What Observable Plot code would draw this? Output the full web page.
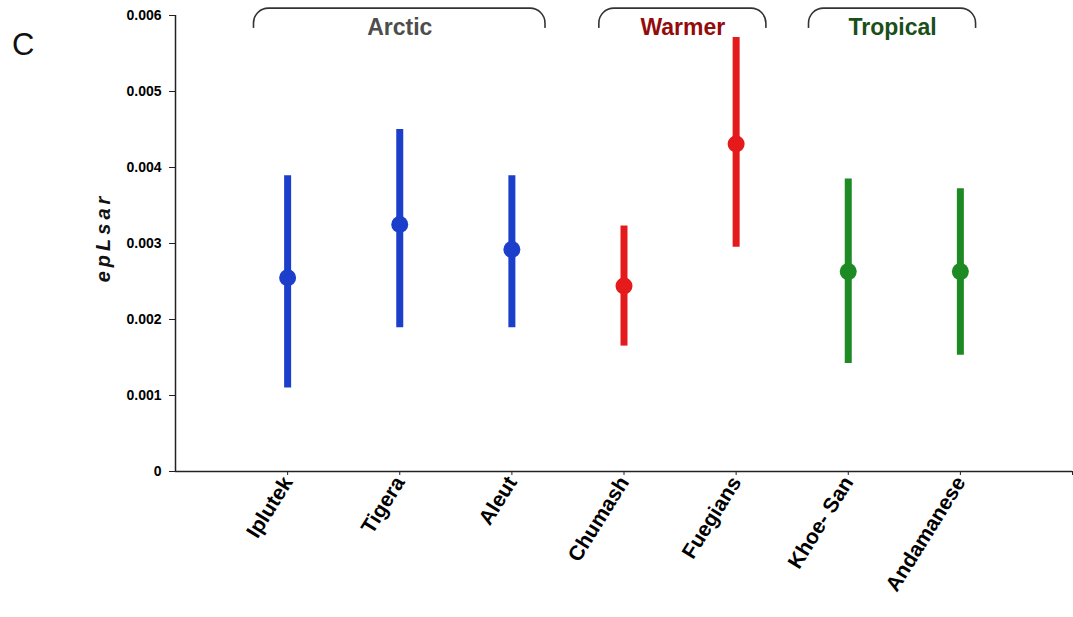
<!DOCTYPE html>
<html><head><meta charset="utf-8">
<script src="https://cdn.jsdelivr.net/npm/d3@7"></script>
<script src="https://cdn.jsdelivr.net/npm/@observablehq/plot@0.6"></script>
<style>
body{margin:0;background:#fff;}
#wrap{position:relative;width:1073px;height:617px;}
#panel{position:absolute;left:12px;top:27px;font:31px "Liberation Sans",Arial,sans-serif;color:#111;}
#wrap svg{position:absolute;left:0;top:0;}
</style></head><body><div id="wrap"><div id="panel">C</div></div>
<script>
// Data
const populations = ["Iplutek", "Tigera", "Aleut", "Chumash", "Fuegians", "Khoe- San", "Andamanese"];
const climates    = ["Arctic", "Arctic", "Arctic", "Warmer", "Warmer", "Tropical", "Tropical"];
const means = [0.00255, 0.00325, 0.00292, 0.00244, 0.00431, 0.00263, 0.00263];
const lows  = [0.00110, 0.00189, 0.00189, 0.00165, 0.00295, 0.00142, 0.00153];
const highs = [0.00389, 0.00450, 0.00389, 0.00323, 0.00571, 0.00385, 0.00372];
const yTicks = [0, 0.001, 0.002, 0.003, 0.004, 0.005, 0.006];
const groupNames = ["Arctic", "Warmer", "Tropical"];
const groupFrom  = [0.70, 3.78, 5.65];
const groupTo    = [3.30, 5.27, 7.14];

const colorOf = {Arctic: "#1c3fcb", Warmer: "#e51b1b", Tropical: "#1e8a24"};
const labelColor = {Arctic: "#4d4d4d", Warmer: "#930b0b", Tropical: "#1a4f1a"};

const rows = populations.map((p, i) => ({pos: i + 1, name: p, climate: climates[i], mean: means[i], lo: lows[i], hi: highs[i]}));
const groups = groupNames.map((g, i) => ({name: g, from: groupFrom[i], to: groupTo[i]}));
const narrow = "'Liberation Sans Narrow', 'Liberation Sans', Arial, sans-serif";

const chart = Plot.plot({
  width: 1073, height: 617,
  marginLeft: 175, marginRight: 1, marginTop: 15, marginBottom: 146,
  style: {fontFamily: "'Liberation Sans', Arial, sans-serif", background: "transparent", overflow: "visible"},
  x: {domain: [0, 8], axis: null},
  y: {domain: [0, 0.006], axis: null},
  color: {type: "identity"},
  marks: [
    Plot.axisY({ticks: yTicks, tickFormat: d => d === 0 ? "0" : d3.format(".3f")(d), tickSize: 6, tickPadding: 8,
      fontSize: 14, fontWeight: "bold", label: null, stroke: "#222"}),
    Plot.axisX({ticks: d3.range(1, 9), tickFormat: d => populations[d - 1] ?? "", tickRotate: -58, tickSize: 4, tickPadding: 3,
      fontSize: 21, fontWeight: "bold", label: null, stroke: "#222"}),
    Plot.ruleX([0], {stroke: "#222", strokeWidth: 1.5}),
    Plot.ruleY([0], {stroke: "#222", strokeWidth: 1.5}),
    // group brackets
    Plot.rect(groups, {x1: "from", x2: "to", y1: 0.0050, y2: 0.00609, rx: 15, stroke: "#333", strokeWidth: 1.6, fill: "none"}),
    Plot.rect(groups, {x1: d => d.from - 0.05, x2: d => d.to + 0.05, y1: 0.0049, y2: 0.00583, fill: "white"}),
    Plot.text(groups, {x: d => (d.from + d.to) / 2, y: 0.00575, text: "name", lineAnchor: "bottom",
      fill: d => labelColor[d.name], fontSize: 23, fontWeight: "bold", fontFamily: narrow}),
    // data
    Plot.ruleX(rows, {x: "pos", y1: "lo", y2: "hi", stroke: d => colorOf[d.climate], strokeWidth: 7}),
    Plot.dot(rows, {x: "pos", y: "mean", r: 8.5, fill: d => colorOf[d.climate], stroke: "none"}),
    Plot.text(["epLsar"], {text: d => d, frameAnchor: "left", textAnchor: "middle", rotate: -90, dx: -72, dy: -6, fontSize: 20,
      fontStyle: "italic", fontWeight: "bold", fill: "#111"})
  ]
});
document.getElementById("wrap").appendChild(chart);
d3.select(chart).selectAll("text").filter(function() { return this.textContent === "epLsar"; })
  .attr("letter-spacing", "4px");
</script>
</body></html>
